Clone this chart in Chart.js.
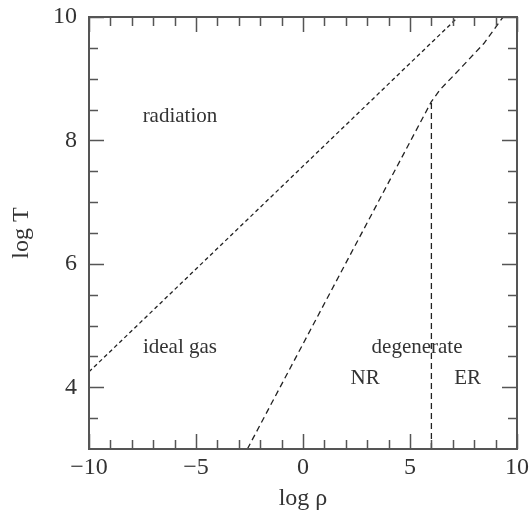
<!DOCTYPE html>
<html><head><meta charset="utf-8">
<script src="https://cdn.jsdelivr.net/npm/chart.js@4"></script>
<style>html,body{margin:0;padding:0;background:#fff}</style>
</head><body>
<canvas id="c" width="531" height="529"></canvas>
<script>
// boundary curves (log rho, log T)
const rhoRadIdeal = [-10, 7.25];
const tRadIdeal   = [4.25, 10];
const rhoIdealDeg = [-2.6, 6.0, 6.4, 7.5, 8.45, 9.35];
const tIdealDeg   = [3.0, 8.63, 8.82, 9.22, 9.57, 10.0];
const rhoNrEr     = [6.0, 6.0];
const tNrEr       = [3.0, 8.63];

// tick values
const xMajorTicks = [-10, -5, 0, 5, 10];
const xMinorTicks = [-9,-8,-7,-6,-4,-3,-2,-1,1,2,3,4,6,7,8,9];
const yMajorTicks = [4, 6, 8, 10];
const yMinorTicks = [3.5,4.5,5,5.5,6.5,7,7.5,8.5,9,9.5];

// region labels
const regionLabels = ['radiation', 'ideal gas', 'degenerate', 'NR', 'ER'];
const regionRho    = [-5.75, -5.75, 5.33, 2.9, 7.69];
const regionT      = [8.30, 4.56, 4.56, 4.06, 4.06];

const toPts = (xs, ys) => xs.map((v, i) => ({x: v, y: ys[i]}));
const fmt = v => (v < 0 ? '\u2212' + Math.abs(v) : String(v));

const serif = '"Liberation Serif", "DejaVu Serif", serif';
const ink = '#333';

const frameTicks = {
  id: 'frameTicks',
  afterDatasetsDraw(chart) {
    const {ctx, chartArea: a, scales: {x, y}} = chart;
    ctx.save();
    ctx.strokeStyle = '#555';
    ctx.lineWidth = 1.5;
    ctx.beginPath();
    const vt = (v, len) => {
      const px = Math.round(x.getPixelForValue(v)) + 0.5;
      ctx.moveTo(px, a.bottom); ctx.lineTo(px, a.bottom - len);
      ctx.moveTo(px, a.top); ctx.lineTo(px, a.top + len);
    };
    const ht = (v, len) => {
      const py = Math.round(y.getPixelForValue(v)) + 0.5;
      ctx.moveTo(a.left, py); ctx.lineTo(a.left + len, py);
      ctx.moveTo(a.right, py); ctx.lineTo(a.right - len, py);
    };
    xMajorTicks.forEach(v => vt(v, 15));
    xMinorTicks.forEach(v => vt(v, 9));
    yMajorTicks.forEach(v => ht(v, 15));
    yMinorTicks.forEach(v => ht(v, 9));
    ctx.stroke();
    ctx.lineWidth = 2;
    ctx.strokeRect(a.left, a.top, a.right - a.left, a.bottom - a.top);
    ctx.fillStyle = ink;
    ctx.font = '21px ' + serif;
    ctx.textAlign = 'center';
    ctx.textBaseline = 'alphabetic';
    regionLabels.forEach((t, i) => {
      ctx.fillText(t, x.getPixelForValue(regionRho[i]), y.getPixelForValue(regionT[i]));
    });
    ctx.restore();
  }
};

const lineStyle = {showLine: true, pointRadius: 0, borderColor: '#222', borderWidth: 1.3, fill: false};

new Chart(document.getElementById('c'), {
  type: 'scatter',
  data: {
    datasets: [
      Object.assign({label: 'radiation / ideal gas', data: toPts(rhoRadIdeal, tRadIdeal), borderDash: [4, 3]}, lineStyle),
      Object.assign({label: 'ideal gas / degenerate', data: toPts(rhoIdealDeg, tIdealDeg), borderDash: [6, 4]}, lineStyle),
      Object.assign({label: 'NR / ER', data: toPts(rhoNrEr, tNrEr), borderDash: [6, 4]}, lineStyle)
    ]
  },
  options: {
    responsive: false,
    animation: false,
    devicePixelRatio: 1,
    layout: {padding: {left: 0, right: 14, top: 17, bottom: 0}},
    plugins: {legend: {display: false}, tooltip: {enabled: false}},
    scales: {
      x: {
        type: 'linear', position: 'bottom', min: -10, max: 10,
        grid: {display: false, drawTicks: false},
        border: {display: false},
        afterBuildTicks: s => { s.ticks = xMajorTicks.map(v => ({value: v})); },
        afterFit: s => { s.height = 80; s.paddingLeft = 0; s.paddingRight = 0; },
        ticks: {font: {family: serif, size: 24}, color: ink, padding: 4, maxRotation: 0, autoSkip: false, callback: fmt},
        title: {display: true, text: 'log \u03c1', font: {family: serif, size: 24}, color: ink, padding: {top: 0, bottom: 16}}
      },
      y: {
        type: 'linear', position: 'left', min: 3, max: 10,
        grid: {display: false, drawTicks: false},
        border: {display: false},
        afterBuildTicks: s => { s.ticks = yMajorTicks.map(v => ({value: v})); },
        afterFit: s => { s.width = 89; s.paddingTop = 0; s.paddingBottom = 0; },
        ticks: {font: {family: serif, size: 24}, color: ink, padding: 12, autoSkip: false, callback: fmt},
        title: {display: true, text: 'log T', font: {family: serif, size: 24}, color: ink, padding: {top: 7, bottom: 0}}
      }
    }
  },
  plugins: [frameTicks]
});
</script>
</body></html>
